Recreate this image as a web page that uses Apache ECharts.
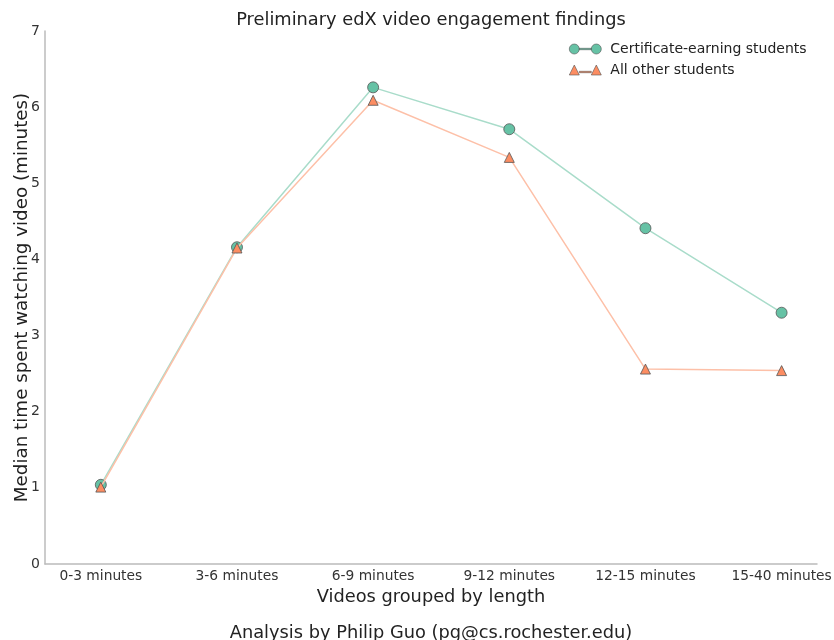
<!DOCTYPE html>
<html>
<head>
<meta charset="utf-8">
<script src="https://cdn.jsdelivr.net/npm/echarts@6/dist/echarts.min.js"></script>
<style>html,body{margin:0;padding:0;background:#fff;}#c{width:834px;height:640px;}</style>
</head>
<body>
<div id="c"></div>
<script>
var categories = ['0-3 minutes', '3-6 minutes', '6-9 minutes', '9-12 minutes', '12-15 minutes', '15-40 minutes'];
var certificateStudents = [1.04, 4.16, 6.26, 5.71, 4.41, 3.30];
var otherStudents = [1.01, 4.15, 6.09, 5.34, 2.56, 2.54];
var yTicks = [0, 1, 2, 3, 4, 5, 6, 7];

var font = 'DejaVu Sans';
var chart = echarts.init(document.getElementById('c'));
function pairs(arr) { return arr.map(function (v, i) { return [i, v]; }); }
var idx = categories.map(function (c, i) { return i; });

chart.setOption({
  animation: false,
  backgroundColor: '#fff',
  textStyle: { fontFamily: font },
  title: {
    text: 'Preliminary edX video engagement findings',
    left: 426, top: 6, textAlign: 'center',
    textStyle: { fontFamily: font, fontSize: 17.8, fontWeight: 'normal', color: '#222' }
  },
  graphic: [{
    type: 'text', x: 431, y: 624,
    style: { text: 'Analysis by Philip Guo (pg@cs.rochester.edu)', fontFamily: font, fontSize: 17.8, fill: '#222', align: 'center', verticalAlign: 'top' }
  }],
  legend: {
    orient: 'vertical', left: 564, top: 37,
    itemWidth: 32, itemHeight: 12, itemGap: 7,
    itemStyle: { borderWidth: 0.6, borderColor: '#555' },
    textStyle: { fontFamily: font, fontSize: 14, color: '#222', padding: [0, 0, 0, 4] },
    data: [
      { name: 'Certificate-earning students', icon: 'path://M0,6a5,5 0 1,0 10,0a5,5 0 1,0 -10,0Z M22,6a5,5 0 1,0 10,0a5,5 0 1,0 -10,0Z M10,5.3h12v1.4h-12Z' },
      { name: 'All other students', icon: 'path://M0,11L5,1L10,11Z M22,11L27,1L32,11Z M10,7.3h12v1.4h-12Z' }
    ]
  },
  grid: { left: 45, right: 17, top: 31, bottom: 76, containLabel: false, outerBoundsMode: 'none' },
  xAxis: {
    type: 'value', min: -0.41, max: 5.26,
    name: 'Videos grouped by length', nameLocation: 'middle', nameGap: 24, nameMoveOverlap: false,
    nameTextStyle: { fontFamily: font, fontSize: 17.8, color: '#222' },
    axisLine: { show: true, onZero: false, lineStyle: { color: '#bbbbbb', width: 1.5 } },
    axisTick: { show: false },
    splitLine: { show: false },
    axisLabel: {
      customValues: idx, margin: 5,
      fontFamily: font, fontSize: 13.8, color: '#333',
      formatter: function (v) { return categories[Math.round(v)]; }
    }
  },
  yAxis: {
    type: 'value', min: 0, max: 7, interval: 1,
    name: 'Median time spent watching video (minutes)', nameLocation: 'middle', nameGap: 14, nameMoveOverlap: false,
    nameTextStyle: { fontFamily: font, fontSize: 18.3, color: '#222' },
    axisLine: { show: true, onZero: false, lineStyle: { color: '#bbbbbb', width: 1.5 } },
    axisTick: { show: false },
    splitLine: { show: false },
    axisLabel: {
      margin: 5, fontFamily: font, fontSize: 14, color: '#333',
      formatter: function (v) { return yTicks.indexOf(v) >= 0 ? String(v) : ''; }
    }
  },
  series: [
    {
      name: 'Certificate-earning students', type: 'line',
      data: pairs(certificateStudents),
      symbol: 'circle', symbolSize: 11,
      itemStyle: { color: '#66c2a5', borderColor: '#555', borderWidth: 0.8 },
      lineStyle: { color: '#a9dcca', width: 1.5 },
      z: 3
    },
    {
      name: 'All other students', type: 'line',
      data: pairs(otherStudents),
      symbol: 'triangle', symbolSize: 10,
      itemStyle: { color: '#fc8d62', borderColor: '#555', borderWidth: 0.8 },
      lineStyle: { color: '#fdc0a8', width: 1.5 },
      z: 4
    }
  ]
});
</script>
</body>
</html>
